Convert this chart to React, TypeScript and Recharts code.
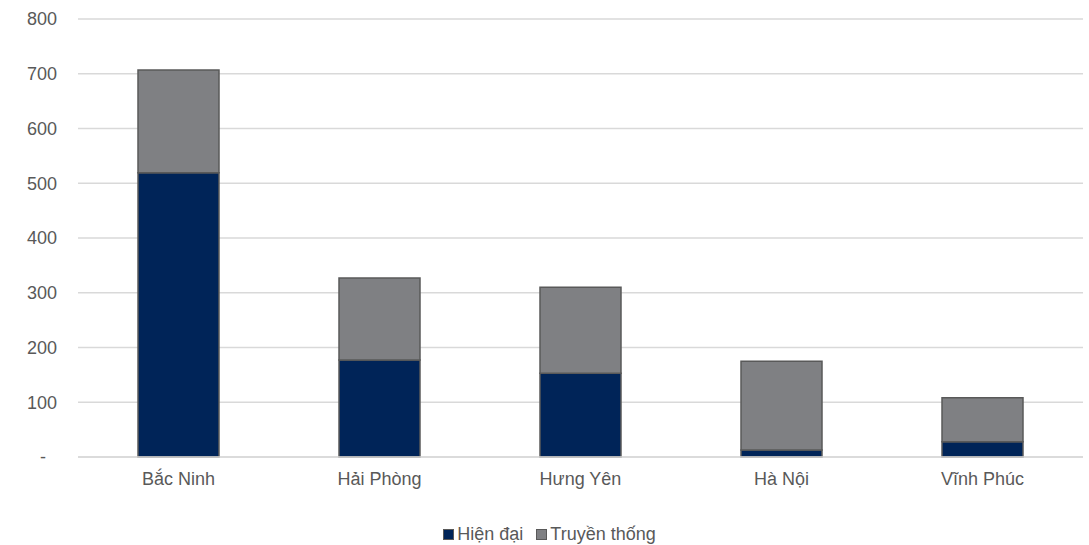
import { BarChart, Bar, XAxis, YAxis, CartesianGrid, Legend } from 'recharts';

const provinces = ['Bắc Ninh', 'Hải Phòng', 'Hưng Yên', 'Hà Nội', 'Vĩnh Phúc'];
const hienDai = [519, 177, 153, 13, 28];
const truyenThong = [188, 150, 157, 162, 80];
const yTicks = [0, 100, 200, 300, 400, 500, 600, 700, 800];

const NAVY = '#002458';
const GREY = '#7f8083';
const TEXT = '#595959';
const FONT = '"Liberation Sans", Arial, sans-serif';

const data = provinces.map((name, i) => ({
  name,
  hienDai: hienDai[i],
  truyenThong: truyenThong[i],
}));

const legendItems = [
  { label: 'Hiện đại', color: NAVY },
  { label: 'Truyền thống', color: GREY },
];

const YTick = ({ x, y, payload }: any) => (
  <text
    x={payload.value === 0 ? x - 11 : x}
    y={y}
    dy="0.35em"
    textAnchor="end"
    fill={TEXT}
    fontSize={18}
    fontFamily={FONT}
  >
    {payload.value === 0 ? '-' : payload.value}
  </text>
);

const LegendContent = () => (
  <div
    style={{
      display: 'flex',
      justifyContent: 'center',
      alignItems: 'center',
      height: 26,
      paddingLeft: 16,
      paddingTop: 4,
      boxSizing: 'border-box',
      fontFamily: FONT,
      fontSize: 18,
      color: TEXT,
    }}
  >
    {legendItems.map((it, i) => (
      <div key={i} style={{ display: 'flex', alignItems: 'center', marginLeft: i ? 13 : 0 }}>
        <div style={{ width: 9, height: 9, background: it.color, border: '1px solid #595959', marginRight: 3 }} />
        <span>{it.label}</span>
      </div>
    ))}
  </div>
);

export default function App() {
  return (
    <div style={{ position: 'absolute', left: 0, top: 0, width: 1089, height: 545, background: '#fff' }}>
      <BarChart
        width={1089}
        height={545}
        data={data}
        margin={{ top: 19, right: 6, bottom: 0, left: 0 }}
      >
        <CartesianGrid vertical={false} stroke="#d9d9d9" strokeWidth={1.5} />
        <XAxis
          dataKey="name"
          height={62}
          tickLine={false}
          tickSize={6}
          tickMargin={9}
          axisLine={{ stroke: '#d9d9d9', strokeWidth: 1.5 }}
          tick={{ fill: TEXT, fontSize: 18, fontFamily: FONT }}
          interval={0}
        />
        <YAxis
          width={78}
          domain={[0, 800]}
          ticks={yTicks}
          axisLine={false}
          tickLine={false}
          tickSize={6}
          tickMargin={15}
          tick={<YTick />}
        />
        <Legend verticalAlign="bottom" content={<LegendContent />} />
        <Bar dataKey="hienDai" stackId="a" fill={NAVY} stroke="#595959" strokeWidth={1.5} barSize={81} isAnimationActive={false} />
        <Bar dataKey="truyenThong" stackId="a" fill={GREY} stroke="#595959" strokeWidth={1.5} barSize={81} isAnimationActive={false} />
      </BarChart>
    </div>
  );
}
